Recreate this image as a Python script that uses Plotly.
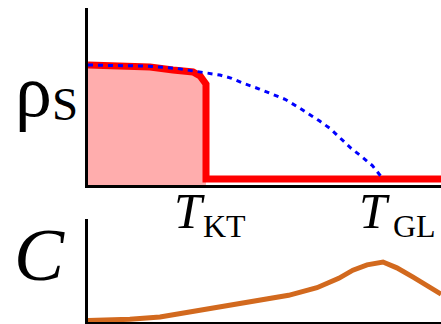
import plotly.graph_objects as go
from plotly.subplots import make_subplots

# Superfluid stiffness vs temperature (reduced units, T_GL = 1)
t_ktb = [0.0, 0.21, 0.288, 0.356, 0.38, 0.393, 0.40, 0.40, 1.2]
rho_ktb = [1.0, 0.982, 0.956, 0.939, 0.904, 0.868, 0.833, 0.0, 0.0]

# Mean-field (Ginzburg-Landau) stiffness
t_gl = [0.0, 0.1, 0.2, 0.3, 0.39, 0.447, 0.487, 0.527, 0.581, 0.623, 0.668,
        0.71, 0.747, 0.783, 0.82, 0.854, 0.892, 0.928, 0.964, 1.0]
rho_gl = [1.0, 0.998, 0.99, 0.97, 0.935, 0.912, 0.883, 0.839, 0.789, 0.746,
          0.699, 0.634, 0.576, 0.512, 0.444, 0.357, 0.269, 0.196, 0.117, 0.0]

# Specific heat
t_c = [0.0, 0.142, 0.244, 0.381, 0.559, 0.68, 0.776, 0.85, 0.898, 0.946, 1.0,
       1.047, 1.102, 1.149, 1.197]
c_val = [0.0, 0.02, 0.06, 0.17, 0.32, 0.43, 0.56, 0.72, 0.86, 0.95, 1.0,
         0.9, 0.74, 0.6, 0.45]

W, H = 441, 324
X_RANGE = [0.0, 1.1966]
RHO_RANGE = [-0.053, 1.5]
C_RANGE = [-0.026, 1.735]


def px(x):
    return x / W


def py(y):
    return 1 - y / H


fig = make_subplots(rows=2, cols=1)

# shaded region under the KT stiffness (below T_KT)
fill_t = t_ktb[:7] + [t_ktb[6], t_ktb[0]]
fill_r = rho_ktb[:7] + [RHO_RANGE[0], RHO_RANGE[0]]
fig.add_trace(go.Scatter(x=fill_t, y=fill_r, mode="lines", fill="toself",
                         fillcolor="#ffadad", line=dict(width=0),
                         hoverinfo="skip"), row=1, col=1)
fig.add_trace(go.Scatter(x=t_ktb, y=rho_ktb, mode="lines",
                         line=dict(color="#ff0000", width=7)), row=1, col=1)
fig.add_trace(go.Scatter(x=t_gl, y=rho_gl, mode="lines",
                         line=dict(color="#0000ff", width=3, dash="5px,5px")),
              row=1, col=1)
fig.add_trace(go.Scatter(x=t_c, y=c_val, mode="lines",
                         line=dict(color="#d2691e", width=5)), row=2, col=1)

axis_common = dict(showgrid=False, zeroline=False, showticklabels=False,
                   ticks="", showline=True, linecolor="black")
fig.update_xaxes(**axis_common, range=X_RANGE, domain=[px(88), 1.0])
fig.update_yaxes(**axis_common)
fig.update_xaxes(linewidth=2.5, row=1, col=1)
fig.update_yaxes(linewidth=2.5, range=RHO_RANGE,
                 domain=[py(185), py(8)], row=1, col=1)
fig.update_xaxes(linewidth=1.5, row=2, col=1)
fig.update_yaxes(linewidth=2.5, range=C_RANGE,
                 domain=[py(322), py(219)], row=2, col=1)

serif = "Liberation Serif"


def label(text, x, y, size, italic=False):
    fig.add_annotation(text=text, x=px(x), y=py(y), xref="paper", yref="paper",
                       xanchor="left", yanchor="bottom", showarrow=False,
                       font=dict(family=serif, size=size, color="black",
                                 style="italic" if italic else "normal"))


# bottom of annotation boxes sits below the glyph baseline by the descent
label("ρ", 13, 134, 74)
label("S", 50, 132, 47)
label("C", 12, 298, 75, italic=True)
label("T", 172, 241, 50, italic=True)
label("KT", 201, 246, 32)
label("T", 357, 241, 50, italic=True)
label("GL", 391, 246, 32)

fig.update_layout(width=W, height=H, margin=dict(l=0, r=0, t=0, b=0),
                  showlegend=False, plot_bgcolor="white",
                  paper_bgcolor="white")

fig.write_html("out.html")
